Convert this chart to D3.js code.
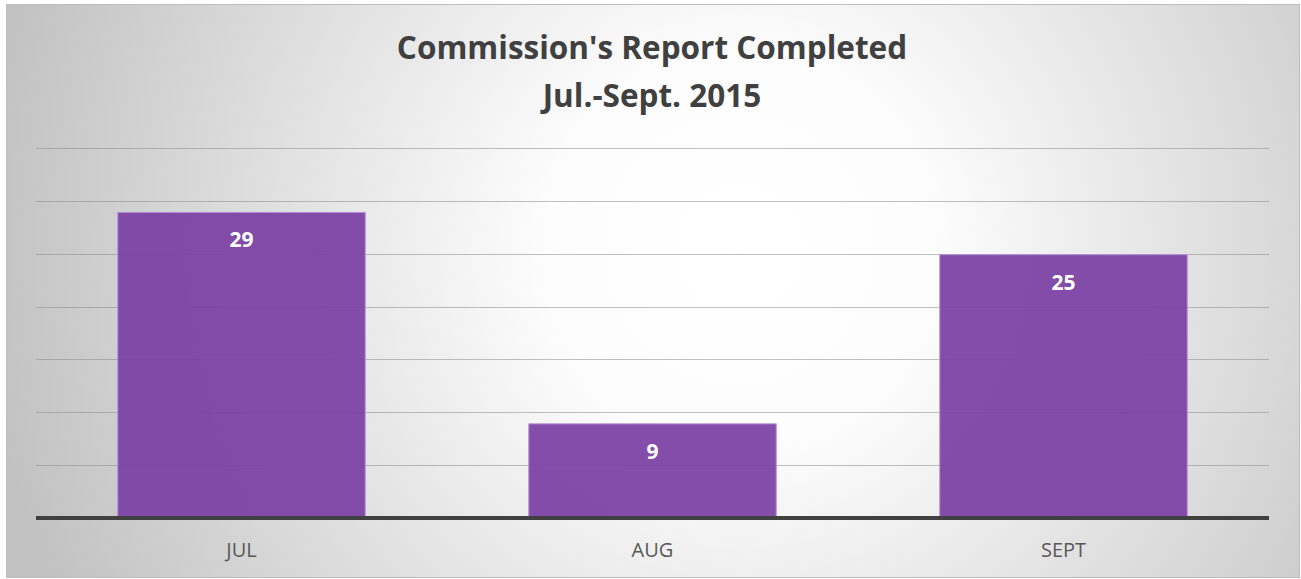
<!DOCTYPE html>
<html lang="en">
  <head>
    <meta charset="utf-8">
    <title>Commission's Report Completed</title>
    <script src="https://cdn.jsdelivr.net/npm/d3@7"></script>
    <style>
      body { margin: 0; background: #fff; }
      svg { display: block; font-family: "Open Sans", sans-serif; }
    </style>
  </head>
  <body>
    <svg width="1301" height="579"></svg>
    <script>

      var months = ["JUL", "AUG", "SEPT"];
      var completed = [29, 9, 25];
      var gridTicks = [0, 5, 10, 15, 20, 25, 30, 35];
      var titleLines = ["Commission's Report Completed", "Jul.-Sept. 2015"];

      var svg = d3.select("svg"),
          width = +svg.attr("width"),
          height = +svg.attr("height");

      var frame = { left: 6, top: 4, right: 1299, bottom: 577 };
      var plot = { left: 36, right: 1269, top: 148, bottom: 518 };

      var defs = svg.append("defs");
      var grad = defs.append("radialGradient")
          .attr("id", "bg")
          .attr("gradientUnits", "userSpaceOnUse")
          .attr("cx", 740).attr("cy", 250).attr("r", 760);
      grad.append("stop").attr("offset", "0%").attr("stop-color", "#ffffff");
      grad.append("stop").attr("offset", "25%").attr("stop-color", "#fdfdfd");
      grad.append("stop").attr("offset", "100%").attr("stop-color", "#c2c2c2");

      svg.append("rect")
          .attr("x", frame.left + 0.5)
          .attr("y", frame.top + 0.5)
          .attr("width", frame.right - frame.left)
          .attr("height", frame.bottom - frame.top)
          .attr("fill", "url(#bg)")
          .attr("stroke", "#bdbdbd");

      var x = d3.scaleBand()
          .domain(months)
          .range([plot.left, plot.right])
          .paddingInner(0.398)
          .paddingOuter(0.199);

      var y = d3.scaleLinear()
          .domain([0, 35])
          .range([plot.bottom, plot.top]);

      // gridlines
      svg.append("g")
          .selectAll("line")
          .data(gridTicks.slice(1))
        .enter().append("line")
          .attr("x1", plot.left)
          .attr("x2", plot.right)
          .attr("y1", function(d) { return Math.round(y(d)) + 0.5; })
          .attr("y2", function(d) { return Math.round(y(d)) + 0.5; })
          .attr("stroke", "#8c8c8c")
          .attr("stroke-opacity", 0.55);

      // bars
      svg.append("g")
          .selectAll("rect")
          .data(completed)
        .enter().append("rect")
          .attr("x", function(d, i) { return x(months[i]); })
          .attr("y", function(d) { return y(d) + 1; })
          .attr("width", x.bandwidth())
          .attr("height", function(d) { return y(0) - y(d) - 1; })
          .attr("fill", "#7a3fa3")
          .attr("fill-opacity", 0.93)
          .attr("stroke", "#b48fd6")
          .attr("stroke-width", 1);

      // data labels
      svg.append("g")
          .selectAll("text")
          .data(completed)
        .enter().append("text")
          .attr("x", function(d, i) { return x(months[i]) + x.bandwidth() / 2; })
          .attr("y", function(d) { return y(d) + 36; })
          .attr("text-anchor", "middle")
          .attr("fill", "#ffffff")
          .attr("font-weight", "bold")
          .attr("font-size", 21)
          .text(function(d) { return d; });

      // baseline
      svg.append("line")
          .attr("x1", plot.left)
          .attr("x2", plot.right)
          .attr("y1", y(0))
          .attr("y2", y(0))
          .attr("stroke", "#404040")
          .attr("stroke-width", 4);

      // category labels
      var xAxis = svg.append("g")
          .attr("transform", "translate(0," + (y(0) + 2) + ")")
          .call(d3.axisBottom(x).tickSize(0).tickPadding(23));
      xAxis.select(".domain").remove();
      xAxis.selectAll("text")
          .attr("fill", "#595959")
          .attr("font-family", "Open Sans, sans-serif")
          .attr("font-size", 20);

      // title
      svg.append("g")
          .selectAll("text")
          .data(titleLines)
        .enter().append("text")
          .attr("x", 652)
          .attr("y", function(d, i) { return 59 + i * 48; })
          .attr("text-anchor", "middle")
          .attr("fill", "#404040")
          .attr("font-weight", "bold")
          .attr("font-size", 31.5)
          .text(function(d) { return d; });

    </script>
  </body>
</html>
